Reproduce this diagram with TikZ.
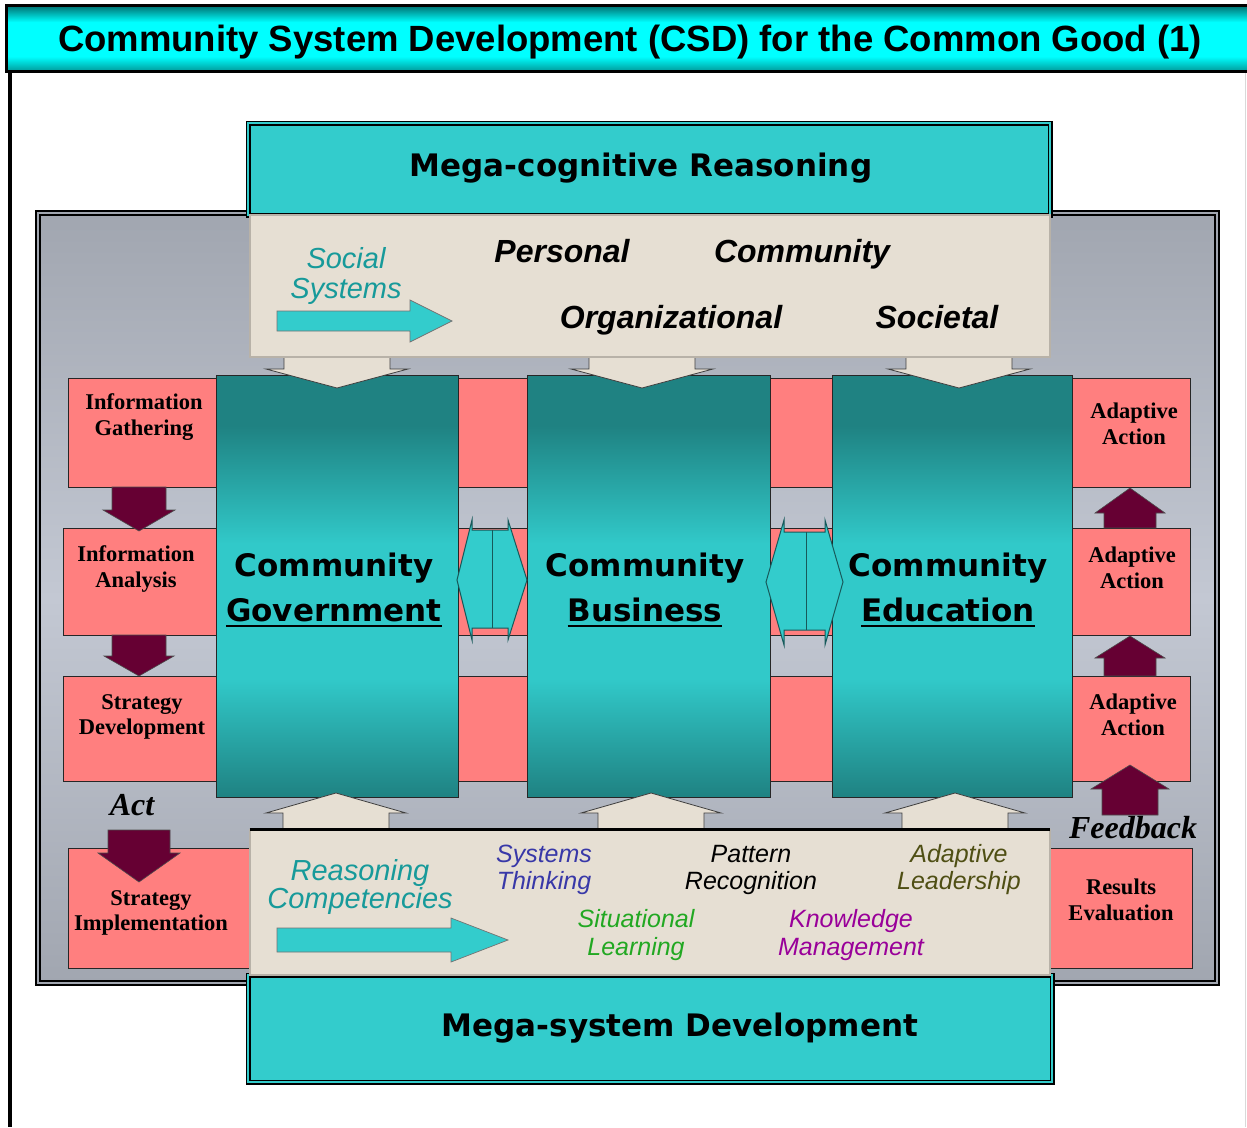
\documentclass[tikz,border=0pt]{standalone}
\usepackage{fontspec}
\setmainfont{Liberation Sans}
\newfontfamily\WideSans{DejaVu Sans}
\newfontfamily\BoxSerif{Liberation Serif}
\usepackage{tikz}

\definecolor{Cyan}{HTML}{33CCCC}
\definecolor{TealDark}{HTML}{1F8282}
\definecolor{TealLight}{HTML}{31C9C9}
\definecolor{TitleDark}{HTML}{006B6B}
\definecolor{TitleLow}{HTML}{009C9C}
\definecolor{TitleBright}{HTML}{00FFFF}
\definecolor{Salmon}{HTML}{FF7F7F}
\definecolor{Maroon}{HTML}{660033}
\definecolor{Sand}{HTML}{E6DFD3}
\definecolor{SandLine}{HTML}{B8B2A8}
\definecolor{PanelDark}{HTML}{A1A6B0}
\definecolor{PanelLight}{HTML}{C3C8D3}
\definecolor{SwapEdge}{HTML}{17595A}
\definecolor{SocialTeal}{HTML}{179A9A}
\definecolor{ThinkBlue}{HTML}{3838A8}
\definecolor{LeadOlive}{HTML}{4F4F14}
\definecolor{LearnGreen}{HTML}{22A822}
\definecolor{KnowPurple}{HTML}{990099}

\pgfdeclareverticalshading{ColumnShade}{100bp}{color(0bp)=(TealDark); color(25bp)=(TealDark); color(39bp)=(TealLight); color(55bp)=(TealLight); color(69bp)=(TealDark); color(100bp)=(TealDark)}
\pgfdeclareverticalshading{TitleShade}{100bp}{color(0bp)=(TitleDark); color(25bp)=(TitleLow); color(36bp)=(TitleBright); color(62bp)=(TitleBright); color(75bp)=(TitleDark); color(100bp)=(TitleDark)}

% block arrows: style, centre, tail, head base, tip, half shaft, half head
\newcommand{\BlockV}[7]{\draw [#1] (#2-#6,#3) -- (#2-#6,#4) -- (#2-#7,#4) -- (#2,#5) -- (#2+#7,#4) -- (#2+#6,#4) -- (#2+#6,#3) -- cycle;}
\newcommand{\BlockH}[7]{\draw [#1] (#3,#2-#6) -- (#4,#2-#6) -- (#4,#2-#7) -- (#5,#2) -- (#4,#2+#7) -- (#4,#2+#6) -- (#3,#2+#6) -- cycle;}
\newcommand{\ULine}[1]{\setbox0\hbox{#1}\rlap{\rule[-5pt]{\wd0}{1.8pt}}\box0}

\begin{document}
\begin{tikzpicture}[x=1pt,y=-1pt]
	\tikzstyle{Heading}		= [draw=black, line width=3pt, shade, shading=TitleShade, inner sep=0pt]
	\tikzstyle{Panel}		= [draw=black, line width=1.8pt, double=PanelDark, double distance=1.6pt, top color=PanelDark, bottom color=PanelDark, middle color=PanelLight, inner sep=0pt]
	\tikzstyle{Mega}		= [draw=black, line width=1.8pt, double=Cyan, double distance=1.4pt, fill=Cyan, inner sep=0pt]
	\tikzstyle{SandBox}		= [draw=black!80, line width=0.8pt, double=SandLine, double distance=1.2pt, fill=Sand, inner sep=0pt]
	\tikzstyle{PinkBox}		= [draw=black!85, line width=0.9pt, fill=Salmon, inner sep=0pt]
	\tikzstyle{Column}		= [draw=black!85, line width=0.9pt, shade, shading=ColumnShade, inner sep=0pt]
	\tikzstyle{SandArrow}	= [draw=black!75, line width=0.8pt, fill=Sand]
	\tikzstyle{FlowArrow}	= [draw=black!55, line width=0.7pt, fill=Cyan]
	\tikzstyle{Push}		= [draw=black!70, line width=0.6pt, fill=Maroon]
	\tikzstyle{Swap}		= [draw=SwapEdge, line width=1pt, fill=Cyan, line join=miter]
	\tikzstyle{SwapLine}	= [draw=SwapEdge, line width=1pt]
	\tikzstyle{TitleText}	= [inner sep=0pt, font=\bfseries\fontsize{36.5}{40}\selectfont]
	\tikzstyle{MegaText}	= [inner sep=0pt, font=\WideSans\bfseries\fontsize{31}{36}\selectfont]
	\tikzstyle{ColText}		= [inner sep=0pt, align=center, font=\WideSans\bfseries\fontsize{31}{45}\selectfont]
	\tikzstyle{LevelText}	= [inner sep=0pt, font=\bfseries\itshape\fontsize{32}{36}\selectfont]
	\tikzstyle{TealText}	= [inner sep=0pt, align=center, text=SocialTeal, font=\itshape\fontsize{29}{30}\selectfont]
	\tikzstyle{SkillText}	= [inner sep=0pt, align=center, font=\itshape\fontsize{25}{27}\selectfont]
	\tikzstyle{BoxText}		= [inner sep=0pt, align=center, font=\BoxSerif\bfseries\fontsize{22.5}{25.5}\selectfont]
	\tikzstyle{StageText}	= [inner sep=0pt, font=\BoxSerif\bfseries\itshape\fontsize{32}{36}\selectfont]

	\useasboundingbox (0,0) rectangle (1247,1127);
	\fill [white] (0,0) rectangle (1247,1127);

	\coordinate (pageTop) at (10,70);
	\coordinate (pageBot) at (10,1127);
	\coordinate (edgeTop) at (1245.5,72);
	\coordinate (edgeBot) at (1245.5,1127);
	\draw [line width=3.5pt] (pageTop) -- (pageBot);
	\draw [gray!30, line width=1pt] (edgeTop) -- (edgeBot);
	\node (title) at (631,38) [Heading, minimum width=1250pt, minimum height=66pt] {};
	\node (titleT) at (630,51) [TitleText, anchor=base] {Community System Development (CSD) for the Common Good (1)};

	\node (panel) at (627.5,598) [Panel, minimum width=1179pt, minimum height=770pt] {};
	\node (megaTop) at (649,169) [Mega, minimum width=802pt, minimum height=92pt] {};
	\node (megaBot) at (650,1028.5) [Mega, minimum width=804pt, minimum height=107pt] {};

	\node (gath) at (142,432.5) [PinkBox, minimum width=148pt, minimum height=109pt] {};
	\node (anal) at (139.5,581.5) [PinkBox, minimum width=153pt, minimum height=107pt] {};
	\node (dev) at (139.5,728.5) [PinkBox, minimum width=153pt, minimum height=105pt] {};
	\node (impl) at (159,908) [PinkBox, minimum width=182pt, minimum height=120pt] {};
	\node (gapA1) at (492.5,432.5) [PinkBox, minimum width=69pt, minimum height=109pt] {};
	\node (gapA2) at (492.5,581.5) [PinkBox, minimum width=69pt, minimum height=107pt] {};
	\node (gapA3) at (492.5,728.5) [PinkBox, minimum width=69pt, minimum height=105pt] {};
	\node (gapB1) at (801,432.5) [PinkBox, minimum width=62pt, minimum height=109pt] {};
	\node (gapB2) at (801,581.5) [PinkBox, minimum width=62pt, minimum height=107pt] {};
	\node (gapB3) at (801,728.5) [PinkBox, minimum width=62pt, minimum height=105pt] {};
	\node (adapt1) at (1131,432.5) [PinkBox, minimum width=118pt, minimum height=109pt] {};
	\node (adapt2) at (1131,581.5) [PinkBox, minimum width=118pt, minimum height=107pt] {};
	\node (adapt3) at (1131,728.5) [PinkBox, minimum width=118pt, minimum height=105pt] {};
	\node (eval) at (1121,908) [PinkBox, minimum width=142pt, minimum height=120pt] {};

	\node (gov) at (337,586) [Column, minimum width=242pt, minimum height=422pt] {};
	\node (bus) at (648.5,586) [Column, minimum width=243pt, minimum height=422pt] {};
	\node (edu) at (952,586) [Column, minimum width=240pt, minimum height=422pt] {};

	\BlockV{SandArrow}{337}{357}{369}{388}{53}{71}
	\BlockV{SandArrow}{642}{357}{369}{388}{53}{71}
	\BlockV{SandArrow}{959}{357}{369}{388}{53}{71}
	\BlockV{SandArrow}{336}{830}{813}{793}{53}{70}
	\BlockV{SandArrow}{651}{830}{813}{793}{53}{70}
	\BlockV{SandArrow}{955}{830}{813}{793}{53}{70}

	\node (social) at (650,286) [SandBox, minimum width=800pt, minimum height=142pt] {};
	\node (reason) at (650,902.5) [SandBox, minimum width=800pt, minimum height=145pt] {};
	\draw [line width=3pt] (reason.north west) -- (reason.north east);

	\BlockH{FlowArrow}{321}{277}{410}{452}{10}{21}
	\BlockH{FlowArrow}{940}{277}{451}{508}{12}{22}

	\draw [Swap] (457,580) -- (472,520) -- (472,530) -- (508,530) -- (508,520) -- (527,580) -- (508,640) -- (508,628) -- (472,628) -- (472,640) -- cycle;
	\draw [SwapLine] (492,530) -- (492,628);
	\draw [Swap] (766,582) -- (784,520) -- (784,532) -- (825,532) -- (825,520) -- (843,582) -- (825,645) -- (825,630) -- (784,630) -- (784,645) -- cycle;
	\draw [SwapLine] (806,532) -- (806,630);

	\BlockV{Push}{139}{487}{510}{531}{27}{36}
	\BlockV{Push}{139}{635}{656}{676}{27}{35}
	\BlockV{Push}{139}{830}{853}{882}{31}{41}
	\BlockV{Push}{1130}{528}{513}{488}{26}{35}
	\BlockV{Push}{1130}{676}{658}{636}{26}{35}
	\BlockV{Push}{1130}{815}{789}{765}{28}{39}

	\node (megaTopT) at (641,176) [MegaText, anchor=base] {Mega-cognitive Reasoning};
	\node (megaBotT) at (680,1036) [MegaText, anchor=base] {Mega-system Development};

	\node (socialT) at (346,276) [TealText] {Social\\Systems};
	\node (personalT) at (562,262) [LevelText, anchor=base] {Personal};
	\node (communityT) at (802,262) [LevelText, anchor=base] {Community};
	\node (orgT) at (671,328) [LevelText, anchor=base] {Organizational};
	\node (societalT) at (937,328) [LevelText, anchor=base] {Societal};

	\node (govT) at (334,590) [ColText] {Community\\\ULine{Government}};
	\node (busT) at (645,590) [ColText] {Community\\\ULine{Business}};
	\node (eduT) at (948,590) [ColText] {Community\\\ULine{Education}};

	\node (gathT) at (144,417) [BoxText] {Information\\Gathering};
	\node (analT) at (136,569) [BoxText] {Information\\Analysis};
	\node (devT) at (142,717) [BoxText] {Strategy\\Development};
	\node (implT) at (151,913) [BoxText] {Strategy\\Implementation};
	\node (adapt1T) at (1134,424) [BoxText] {Adaptive\\Action};
	\node (adapt2T) at (1132,568) [BoxText] {Adaptive\\Action};
	\node (adapt3T) at (1133,715) [BoxText] {Adaptive\\Action};
	\node (evalT) at (1121,900) [BoxText] {Results\\Evaluation};
	\node (actT) at (132,815) [StageText, anchor=base] {Act};
	\node (feedT) at (1133,838) [StageText, anchor=base] {Feedback};

	\node (reasonT) at (360,887) [TealText, font=\itshape\fontsize{29}{27}\selectfont] {Reasoning\\Competencies};
	\node (systemsT) at (544,870) [SkillText, text=ThinkBlue] {Systems\\Thinking};
	\node (patternT) at (751,870) [SkillText] {Pattern\\Recognition};
	\node (leadT) at (959,870) [SkillText, text=LeadOlive] {Adaptive\\Leadership};
	\node (learnT) at (636,935) [SkillText, text=LearnGreen, font=\itshape\fontsize{25}{28.5}\selectfont] {Situational\\Learning};
	\node (knowT) at (851,935) [SkillText, text=KnowPurple, font=\itshape\fontsize{25}{28.5}\selectfont] {Knowledge\\Management};
\end{tikzpicture}
\end{document}
